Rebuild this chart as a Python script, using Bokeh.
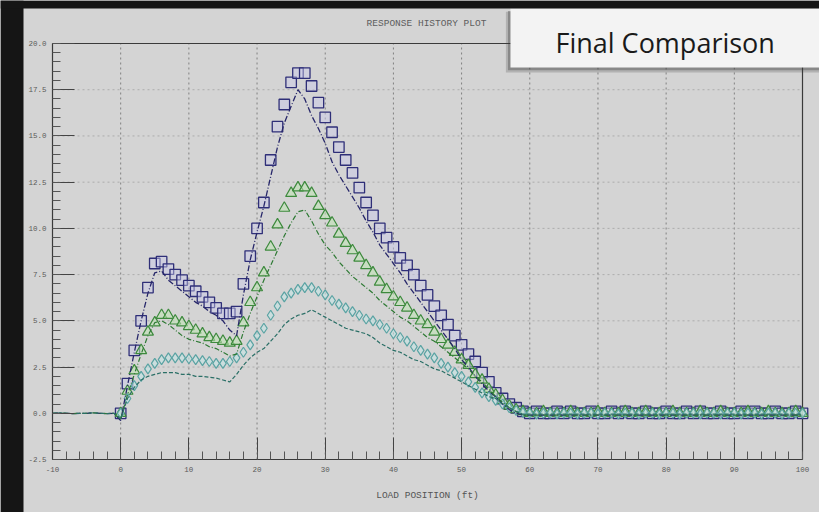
from bokeh.plotting import figure
from bokeh.models import FixedTicker, Label, Range1d, BoxAnnotation
from bokeh.embed import file_html
from bokeh.resources import INLINE

# ---- load positions (ft) ----
x_meas = list(range(0, 101))
x_calc = list(range(-10, 101))

# ---- measured responses (markers), x = 0 .. 100 ----
meas_a = [
    0.0, 1.6, 3.4, 5.0, 6.8, 8.1, 8.2, 7.8, 7.5, 7.2,
    6.9, 6.6, 6.3, 6.0, 5.7, 5.4, 5.4, 5.5, 7.0, 8.5,
    10.0, 11.4, 13.7, 15.5, 16.7, 17.9, 18.4, 18.4, 17.7, 16.8,
    16.0, 15.2, 14.4, 13.7, 13.0, 12.2, 11.4, 10.7, 10.0, 9.5,
    9.0, 8.4, 8.0, 7.5, 6.9, 6.4, 5.8, 5.3, 4.8, 4.2,
    3.7, 3.2, 2.8, 2.2, 1.7, 1.1, 0.8, 0.5, 0.3, 0.1,
    0.0, 0.1, 0.0, 0.0, 0.1, 0.0, 0.1, 0.0, 0.0, 0.1,
    0.0, 0.0, 0.1, 0.0, 0.1, 0.0, 0.0, 0.1, 0.0, 0.0,
    0.1, 0.0, 0.0, 0.1, 0.0, 0.1, 0.0, 0.0, 0.1, 0.0,
    0.0, 0.1, 0.0, 0.1, 0.0, 0.0, 0.1, 0.0, 0.0, 0.1,
    0.0,
]
meas_b = [
    0.0, 1.2, 2.3, 3.4, 4.4, 4.9, 5.3, 5.3, 5.0, 4.9,
    4.7, 4.5, 4.3, 4.1, 4.0, 3.9, 3.8, 3.9, 4.9, 6.0,
    6.8, 7.6, 9.0, 10.2, 11.1, 11.9, 12.2, 12.2, 11.9, 11.2,
    10.7, 10.3, 9.7, 9.2, 8.8, 8.4, 8.0, 7.6, 7.1, 6.7,
    6.3, 6.0, 5.7, 5.3, 5.0, 4.8, 4.4, 4.0, 3.7, 3.3,
    2.9, 2.6, 2.1, 1.8, 1.3, 1.0, 0.7, 0.4, 0.2, 0.1,
    0.0, 0.0, 0.1, 0.0, 0.0, 0.0, 0.1, 0.0, 0.0, 0.0,
    0.1, 0.0, 0.0, 0.0, 0.1, 0.0, 0.0, 0.1, 0.0, 0.0,
    0.0, 0.1, 0.0, 0.0, 0.0, 0.1, 0.0, 0.0, 0.1, 0.0,
    0.0, 0.0, 0.1, 0.0, 0.0, 0.1, 0.0, 0.0, 0.0, 0.1,
    0.0,
]
meas_c = [
    0.0, 0.8, 1.5, 2.0, 2.4, 2.7, 2.9, 3.0, 3.0, 3.0,
    2.95, 2.9, 2.85, 2.8, 2.7, 2.7, 2.8, 3.0, 3.3, 3.7,
    4.2, 4.6, 5.3, 5.8, 6.3, 6.5, 6.7, 6.8, 6.8, 6.6,
    6.4, 6.1, 5.9, 5.7, 5.5, 5.3, 5.1, 5.0, 4.8, 4.6,
    4.3, 4.1, 3.9, 3.6, 3.4, 3.2, 3.0, 2.7, 2.5, 2.2,
    2.0, 1.7, 1.4, 1.1, 0.9, 0.7, 0.5, 0.3, 0.15, 0.05,
    0.0, -0.05, 0.0, 0.0, -0.05, 0.0, 0.0, -0.05, 0.0, 0.0,
    -0.05, 0.0, 0.0, -0.05, 0.0, 0.0, -0.05, 0.0, 0.0, -0.05,
    0.0, 0.0, -0.05, 0.0, 0.0, -0.05, 0.0, 0.0, -0.05, 0.0,
    0.0, -0.05, 0.0, 0.0, -0.05, 0.0, 0.0, -0.05, 0.0, 0.0,
    0.0,
]

# ---- computed responses (lines), x = -10 .. 100 ----
lead_in = [0.0, 0.02, 0.0, -0.02, 0.0, 0.0, 0.02, 0.0, -0.02, 0.0]
calc_a = lead_in + [
    -0.4, 1.5, 3.3, 5.0, 6.5, 7.6, 7.7, 7.2, 6.9, 6.6,
    6.3, 6.0, 5.8, 5.5, 5.3, 5.0, 4.5, 4.2, 6.4, 8.3,
    9.8, 11.2, 12.8, 14.4, 15.7, 16.6, 17.5, 17.0, 16.1, 15.4,
    14.6, 13.6, 12.9, 12.3, 11.7, 11.1, 10.4, 9.8, 9.1, 8.6,
    8.1, 7.6, 7.0, 6.5, 6.0, 5.5, 5.0, 4.5, 4.0, 3.5,
    2.9, 2.5, 2.0, 1.6, 1.2, 0.9, 0.5, 0.2, 0.0, -0.1,
    -0.1, -0.1, -0.1, -0.1, -0.1, -0.1, -0.1, -0.1, -0.1, -0.1,
    -0.1, -0.1, -0.1, -0.1, -0.1, -0.1, -0.1, -0.1, -0.1, -0.1,
    -0.1, -0.1, -0.1, -0.1, -0.1, -0.1, -0.1, -0.1, -0.1, -0.1,
    -0.1, -0.1, -0.1, -0.1, -0.1, -0.1, -0.1, -0.1, -0.1, -0.1,
    -0.1,
]
calc_b = lead_in + [
    -0.3, 1.0, 2.1, 3.2, 4.2, 4.9, 5.0, 4.8, 4.5, 4.2,
    4.0, 3.9, 3.8, 3.6, 3.5, 3.3, 3.1, 3.2, 4.4, 5.4,
    6.3, 7.2, 8.0, 8.8, 9.6, 10.3, 10.9, 11.0, 10.4, 9.7,
    9.1, 8.7, 8.2, 7.8, 7.4, 7.1, 6.8, 6.5, 6.1, 5.8,
    5.5, 5.2, 5.0, 4.7, 4.4, 4.1, 3.9, 3.6, 3.3, 3.0,
    2.7, 2.4, 2.0, 1.7, 1.3, 0.9, 0.6, 0.3, 0.1, -0.1,
    -0.1, -0.1, -0.1, -0.1, -0.1, -0.1, -0.1, -0.1, -0.1, -0.1,
    -0.1, -0.1, -0.1, -0.1, -0.1, -0.1, -0.1, -0.1, -0.1, -0.1,
    -0.1, -0.1, -0.1, -0.1, -0.1, -0.1, -0.1, -0.1, -0.1, -0.1,
    -0.1, -0.1, -0.1, -0.1, -0.1, -0.1, -0.1, -0.1, -0.1, -0.1,
    -0.1,
]
calc_c = lead_in + [
    -0.3, 0.8, 1.4, 1.8, 2.0, 2.1, 2.2, 2.2, 2.2, 2.1,
    2.1, 2.0, 2.0, 1.95, 1.9, 1.8, 1.7, 2.1, 2.6, 3.0,
    3.3, 3.5, 3.9, 4.3, 4.8, 5.1, 5.3, 5.4, 5.6, 5.4,
    5.2, 5.0, 4.8, 4.6, 4.5, 4.4, 4.3, 4.1, 3.8, 3.6,
    3.4, 3.3, 3.1, 2.9, 2.8, 2.6, 2.4, 2.3, 2.1, 1.9,
    1.7, 1.5, 1.3, 1.1, 0.9, 0.8, 0.5, 0.3, 0.1, -0.05,
    -0.05, -0.05, -0.05, -0.05, -0.05, -0.05, -0.05, -0.05, -0.05, -0.05,
    -0.05, -0.05, -0.05, -0.05, -0.05, -0.05, -0.05, -0.05, -0.05, -0.05,
    -0.05, -0.05, -0.05, -0.05, -0.05, -0.05, -0.05, -0.05, -0.05, -0.05,
    -0.05, -0.05, -0.05, -0.05, -0.05, -0.05, -0.05, -0.05, -0.05, -0.05,
    -0.05,
]

# ---- axis ticks / grid ----
x_major = [-10, 0, 10, 20, 30, 40, 50, 60, 70, 80, 90, 100]
x_minor = list(range(-10, 101, 2))
y_major = [-2.5, 0.0, 2.5, 5.0, 7.5, 10.0, 12.5, 15.0, 17.5, 20.0]
y_minor = [v / 2 for v in range(-5, 41)]
x_grid = [0, 10, 20, 30, 40, 50, 60, 70, 80, 90]
y_grid = [2.5, 5.0, 7.5, 10.0, 12.5, 15.0, 17.5]
X_LO, X_HI = -10, 100
Y_LO, Y_HI = -2.5, 20.0

PANEL = "#d4d4d4"
DARK = "#151515"
MONO = "Liberation Mono"

# The frame fills the whole canvas; the data box (-10..100, -2.5..20)
# sits inside it with the axes pinned to its lower-left edges.
p = figure(
    width=819, height=512,
    x_range=Range1d(-17.6267, 102.4933), y_range=Range1d(-5.3666, 22.3257),
    output_backend="svg", toolbar_location=None,
    min_border_left=0, min_border_right=0,
    min_border_top=0, min_border_bottom=0,
    background_fill_color=PANEL, border_fill_color=PANEL,
)
# pin the plot to the top-left corner of the page, outside the normal flow
p.styles = {"position": "fixed", "top": "0px", "left": "0px",
            "background-color": PANEL}
p.outline_line_color = None
p.xgrid.visible = False
p.ygrid.visible = False

# dotted grid, bounded to the data box
p.segment(x0=x_grid, y0=[Y_LO] * len(x_grid), x1=x_grid, y1=[Y_HI] * len(x_grid),
          line_color="#808080", line_dash="2 3", line_width=1)
p.segment(x0=[X_LO] * len(y_grid), y0=y_grid, x1=[X_HI] * len(y_grid), y1=y_grid,
          line_color="#acacac", line_dash="2 3", line_width=1)
# top and right edges of the data box
p.segment(x0=[X_LO, X_HI], y0=[Y_HI, Y_LO], x1=[X_HI, X_HI], y1=[Y_HI, Y_HI],
          line_color="#3a3a3a", line_width=1.2)

# axes
for ax in (p.xaxis[0], p.yaxis[0]):
    ax.axis_line_color = "#3a3a3a"
    ax.axis_line_width = 1.2
    ax.major_tick_line_color = "#444444"
    ax.minor_tick_line_color = "#555555"
    ax.major_tick_in = 22
    ax.major_tick_out = 0
    ax.minor_tick_in = 8
    ax.minor_tick_out = 0
    ax.major_label_text_font = MONO
    ax.major_label_text_font_size = "7.5px"
    ax.major_label_text_color = "#5a5a5a"

p.xaxis.fixed_location = Y_LO
p.xaxis.bounds = (X_LO, X_HI)
p.xaxis.ticker = FixedTicker(ticks=x_major, minor_ticks=x_minor)
p.xaxis.major_label_overrides = {v: str(v) for v in x_major}
p.xaxis.major_label_standoff = 8
p.xaxis.axis_label = "LOAD POSITION (ft)"
p.xaxis.axis_label_text_font = MONO
p.xaxis.axis_label_text_font_size = "9.5px"
p.xaxis.axis_label_text_font_style = "normal"
p.xaxis.axis_label_text_color = "#555555"
p.xaxis.axis_label_standoff = 14

p.yaxis.fixed_location = X_LO
p.yaxis.bounds = (Y_LO, Y_HI)
p.yaxis.ticker = FixedTicker(ticks=y_major, minor_ticks=y_minor)
p.yaxis.major_label_overrides = {v: f"{v:.1f}" for v in y_major}
p.yaxis.major_label_standoff = 6

# measured responses
p.scatter(x_meas, meas_a, marker="square", size=10.5, line_color="#2f2f78",
          line_width=1.3, fill_color="#c9c9ea", fill_alpha=0.45)
p.scatter(x_meas, meas_b, marker="triangle", size=11, line_color="#3d8a3d",
          line_width=1.2, fill_color="#bde3b2", fill_alpha=0.55)
p.scatter(x_meas, meas_c, marker="diamond", size=10, line_color="#5aa3a3",
          line_width=1.2, fill_color="#c4e4e4", fill_alpha=0.6)

# computed responses
p.line(x_calc, calc_a, line_color="#27276a", line_width=1.3, line_dash="6 2 1 2")
p.line(x_calc, calc_b, line_color="#2e7a34", line_width=1.2, line_dash="5 2 1 2")
p.line(x_calc, calc_c, line_color="#2a6f66", line_width=1.2, line_dash="4 2")

# plot heading
p.add_layout(Label(x=44.85, y=21.08, text="RESPONSE HISTORY PLOT", text_font=MONO,
                   text_font_size="9.5px", text_color="#5e5e5e",
                   text_align="center", text_baseline="middle"))

# caption card with a soft shadow
p.add_layout(BoxAnnotation(left=56.5, right=None, top=21.72, bottom=18.43,
                           fill_color="#3a3a3a", fill_alpha=0.22, line_color=None))
p.add_layout(BoxAnnotation(left=56.8, right=None, top=21.76, bottom=18.55,
                           fill_color="#3a3a3a", fill_alpha=0.35, line_color=None))
p.add_layout(BoxAnnotation(left=57.17, right=None, top=21.9, bottom=18.70,
                           fill_color="#f3f3f3", fill_alpha=1.0, line_color=None))
p.add_layout(Label(x=63.77, y=20.05, text="Final Comparison",
                   text_font="Open Sans", text_font_size="27px",
                   text_color="#1a1a1a", text_align="left",
                   text_baseline="alphabetic"))

# dark surround along the left and top edges
p.add_layout(BoxAnnotation(left=None, right=-14.2533, top=None, bottom=None,
                           fill_color=DARK, fill_alpha=1.0, line_color=None))
p.add_layout(BoxAnnotation(left=None, right=None, top=None, bottom=21.893,
                           fill_color=DARK, fill_alpha=1.0, line_color=None))

open("out.html", "w").write(file_html(p, INLINE))
